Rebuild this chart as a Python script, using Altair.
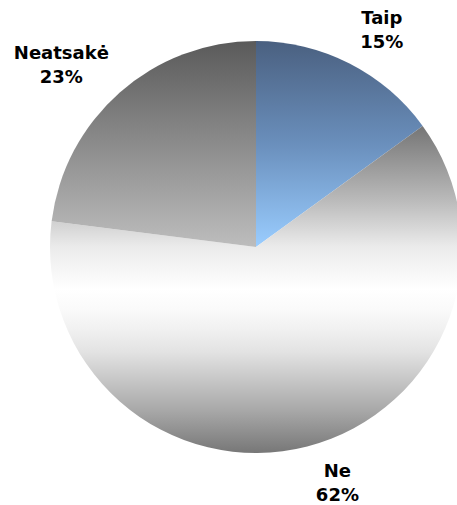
import altair as alt
import pandas as pd

# Survey answers and their shares (percent)
answers = ["Taip", "Ne", "Neatsakė"]
shares = [15, 62, 23]
order = [0, 1, 2]

df = pd.DataFrame({"answer": answers, "share": shares, "order": order})

CX, CY, R = 256, 247, 206

# Gradient fills, one per slice (top of slice -> bottom of slice)
grad_taip = alt.LinearGradient(
    gradient="linear", x1=0, y1=0, x2=0, y2=1,
    stops=[alt.GradientStop(color="#4a6080", offset=0),
           alt.GradientStop(color="#6a8fbc", offset=0.5),
           alt.GradientStop(color="#9acdff", offset=1)],
)
grad_ne = alt.LinearGradient(
    gradient="linear", x1=0, y1=0, x2=0, y2=1,
    stops=[alt.GradientStop(color="#757575", offset=0),
           alt.GradientStop(color="#bbbbbb", offset=0.23),
           alt.GradientStop(color="#ebebeb", offset=0.37),
           alt.GradientStop(color="#ffffff", offset=0.5),
           alt.GradientStop(color="#fafafa", offset=0.56),
           alt.GradientStop(color="#f1f1f1", offset=0.62),
           alt.GradientStop(color="#e3e3e3", offset=0.69),
           alt.GradientStop(color="#a8a8a8", offset=0.87),
           alt.GradientStop(color="#777777", offset=1)],
)
grad_na = alt.LinearGradient(
    gradient="linear", x1=0, y1=0, x2=0, y2=1,
    stops=[alt.GradientStop(color="#5a5a5a", offset=0),
           alt.GradientStop(color="#bdbdbd", offset=1)],
)

theta_scale = alt.Scale(domain=[0, 100], range=[0, 6.283185307179586])

base = (
    alt.Chart(df)
    .transform_window(cum="sum(share)", sort=[alt.SortField("order")], frame=[None, 0])
    .transform_calculate(start="datum.cum - datum.share",
                         mid="datum.cum - datum.share / 2",
                         label="[datum.answer, datum.share + '%']")
)


def slice_layer(name, grad):
    return base.transform_filter(alt.datum.answer == name).mark_arc(
        outerRadius=R, fill=grad, stroke=None
    ).encode(
        theta=alt.Theta("start:Q", scale=theta_scale),
        theta2="cum:Q",
        x=alt.value(CX),
        y=alt.value(CY),
    )


def label_layer(name, dx, dy):
    return base.transform_filter(alt.datum.answer == name).mark_text(
        radius=255, dx=dx, dy=dy, font="DejaVu Sans", fontWeight="bold",
        fontSize=18, lineHeight=24, align="center", baseline="alphabetic",
        color="#000000",
    ).encode(
        theta=alt.Theta("mid:Q", scale=theta_scale),
        text="label:N",
        x=alt.value(CX),
        y=alt.value(CY),
    )


chart = alt.layer(
    slice_layer("Taip", grad_taip),
    slice_layer("Ne", grad_ne),
    slice_layer("Neatsakė", grad_na),
    label_layer("Taip", 10, 4),
    label_layer("Ne", 18, -17),
    label_layer("Neatsakė", -26, 3),
).properties(
    width=457, height=505, padding=0, autosize=alt.AutoSizeParams(type="none"),
    background="#ffffff",
).configure_view(stroke=None)

chart.save("out.html", embed_options={"renderer": "svg", "actions": False})
